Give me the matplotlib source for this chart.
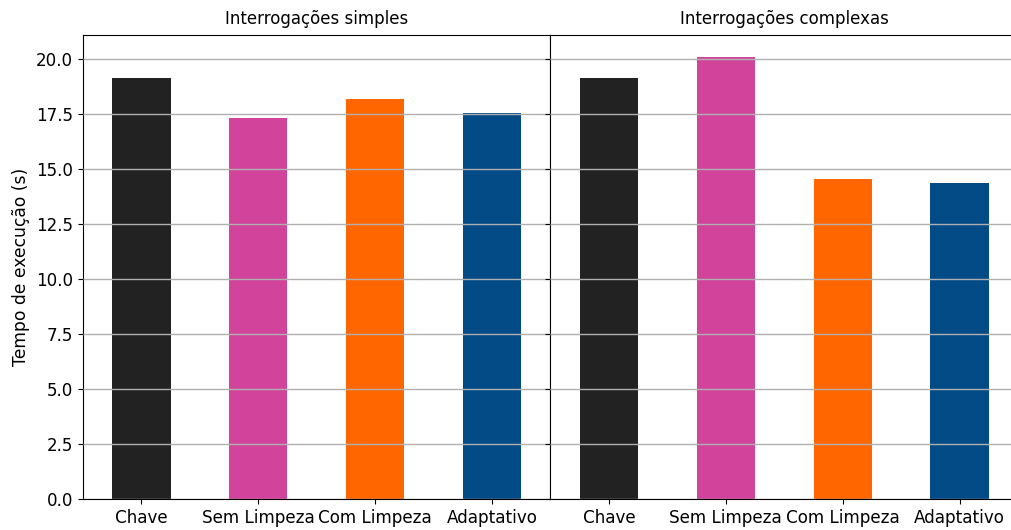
import matplotlib
matplotlib.use("Agg")
import matplotlib.pyplot as plt

methods = ["Chave", "Sem Limpeza", "Com Limpeza", "Adaptativo"]
colors = ["#222222", "#d2449b", "#ff6600", "#034b87"]
groups = ["Interrogações simples", "Interrogações complexas"]
simple_times = [19.14, 17.32, 18.19, 17.55]
complex_times = [19.14, 20.09, 14.56, 14.38]

fig, axes = plt.subplots(1, 2, figsize=(10.11, 5.3), dpi=100, sharey=True)
# right panel runs slightly past the canvas edge
fig.subplots_adjust(left=0.082, right=1.007, top=0.934, bottom=0.058, wspace=0)

for ax, title, times in zip(axes, groups, [simple_times, complex_times]):
    ax.bar(range(len(methods)), times, width=0.5, color=colors)
    ax.set_xticks(range(len(methods)))
    ax.set_xticklabels(methods, fontsize=12.1)
    ax.set_xlim(-0.5, len(methods) - 0.5)
    ax.set_title(title, fontsize=12, pad=8)
    ax.yaxis.grid(True, color="#b0b0b0", linewidth=1)
    ax.set_axisbelow(False)
    ax.tick_params(axis="y", labelsize=12.1)

axes[0].set_ylabel("Tempo de execução (s)", fontsize=12.3)
axes[1].tick_params(axis="y", labelleft=False)

fig.savefig("out.png")
